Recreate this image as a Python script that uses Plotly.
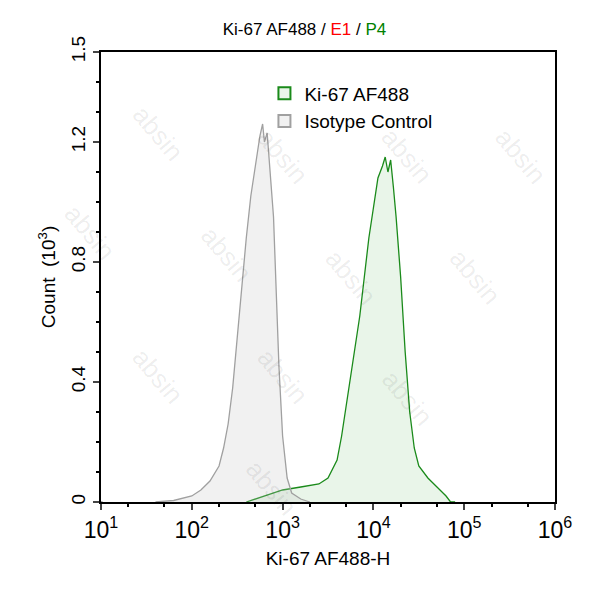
import plotly.graph_objects as go

# log10 of fluorescence and counts (x10^3)
iso_logx = [1.6, 1.8, 2.0, 2.1, 2.2, 2.3, 2.35, 2.4, 2.45, 2.5, 2.55, 2.6, 2.65, 2.7, 2.75, 2.78,
            2.8, 2.83, 2.86, 2.9, 2.93, 2.96, 3.0, 3.05, 3.1, 3.2, 3.3]
iso_count = [0.0, 0.005, 0.02, 0.04, 0.07, 0.12, 0.18, 0.26, 0.38, 0.55, 0.72, 0.88, 1.02, 1.12, 1.22, 1.26,
             1.2, 1.23, 1.1, 0.95, 0.7, 0.45, 0.22, 0.08, 0.03, 0.01, 0.0]

ki_logx = [2.6, 2.8, 3.0, 3.2, 3.4, 3.5, 3.6, 3.65, 3.7, 3.75, 3.8, 3.85, 3.9, 3.95, 4.0, 4.05,
           4.1, 4.13, 4.16, 4.19, 4.22, 4.25, 4.3, 4.35, 4.4, 4.45, 4.5, 4.55, 4.6, 4.7, 4.8, 4.85, 4.9]
ki_count = [0.0, 0.02, 0.04, 0.05, 0.06, 0.08, 0.14, 0.22, 0.32, 0.42, 0.52, 0.62, 0.75, 0.88, 0.98, 1.08,
            1.12, 1.15, 1.1, 1.14, 1.05, 0.95, 0.75, 0.5, 0.3, 0.18, 0.12, 0.1, 0.08, 0.05, 0.02, 0.0, 0.0]

tick_vals = [10, 100, 1000, 10000, 100000, 1000000]
tick_text = ["10<sup>1</sup>", "10<sup>2</sup>", "10<sup>3</sup>", "10<sup>4</sup>", "10<sup>5</sup>", "10<sup>6</sup>"]

green = "#1a8a1a"
grey = "#a0a0a0"

fig = go.Figure()
fig.add_trace(go.Scatter(x=[10 ** v for v in ki_logx], y=ki_count, showlegend=False,
                         mode="lines", line=dict(color=green, width=1.3),
                         fill="tozeroy", fillcolor="rgba(40,160,40,0.1)"))
fig.add_trace(go.Scatter(x=[10 ** v for v in iso_logx], y=iso_count, showlegend=False,
                         mode="lines", line=dict(color=grey, width=1.3),
                         fill="tozeroy", fillcolor="rgba(200,200,200,0.25)"))
# legend boxes
fig.add_trace(go.Bar(x=[10], y=[0], name="Ki-67 AF488",
                     marker=dict(color="rgba(40,160,40,0.1)", line=dict(color=green, width=2))))
fig.add_trace(go.Bar(x=[10], y=[0], name="Isotype Control",
                     marker=dict(color="rgba(200,200,200,0.25)", line=dict(color=grey, width=2))))

# faint watermark
for wx, wy in [(0.05, 0.9), (0.4, 0.85), (0.75, 0.85), (0.2, 0.55), (0.55, 0.5), (0.9, 0.5),
               (0.05, 0.2), (0.4, 0.2), (0.75, 0.15), (1.0, 0.85), (-0.1, 0.6), (0.3, -0.05)]:
    fig.add_annotation(x=wx, y=wy, xref="paper", yref="paper", text="absin", showarrow=False,
                       textangle=50, font=dict(size=26, color="rgba(0,0,0,0.08)"))

fig.update_layout(
    width=593, height=600, plot_bgcolor="white", paper_bgcolor="white",
    margin=dict(l=93, r=46, t=44, b=106),
    font=dict(family="Liberation Sans, Arial", color="black"),
    title=dict(text="Ki-67 AF488 / <span style='color:red'>E1</span> / <span style='color:green'>P4</span>",
               x=0.5, xanchor="center", y=0.975, font=dict(size=17)),
    legend=dict(x=0.36, y=0.95, bgcolor="rgba(0,0,0,0)", font=dict(size=19)),
    showlegend=True,
)
fig.update_xaxes(type="log", range=[1, 6], tickvals=tick_vals, ticktext=tick_text,
                 showline=True, linecolor="black", linewidth=2, mirror=True, showgrid=False,
                 ticks="outside", ticklen=6, tickwidth=2, tickfont=dict(size=23),
                 minor=dict(ticks="outside", ticklen=3, tickcolor="black", showgrid=False),
                 title=dict(text="Ki-67 AF488-H", font=dict(size=19), standoff=10))
fig.update_yaxes(range=[0, 1.5], tickvals=[0, 0.4, 0.8, 1.2, 1.5], ticktext=["0", "0.4", "0.8", "1.2", "1.5"],
                 tickangle=-90, showline=True, linecolor="black", linewidth=2, mirror=True, showgrid=False,
                 ticks="outside", ticklen=6, tickwidth=2, tickfont=dict(size=19),
                 minor=dict(ticks="outside", ticklen=3, tickcolor="black", dtick=0.1, showgrid=False),
                 title=dict(text="Count  (10<sup>3</sup>)", font=dict(size=19), standoff=8))

fig.write_html("out.html")
